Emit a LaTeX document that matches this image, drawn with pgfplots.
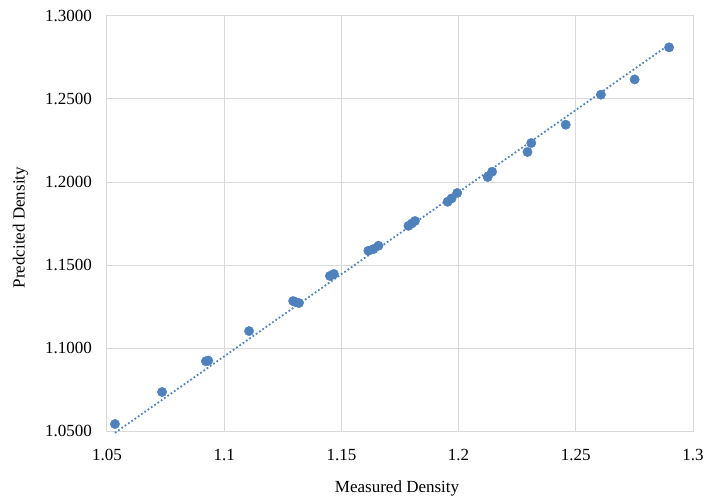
\documentclass[border=0pt]{standalone}
\usepackage{pgfplots}
\pgfplotsset{compat=1.18}
\usepackage{fontspec}
\setmainfont{Liberation Serif}
\definecolor{ptblue}{HTML}{4F81BD}
\definecolor{gridgray}{HTML}{D9D9D9}
\begin{document}
\begin{tikzpicture}
\begin{axis}[
  name=ax,
  scale only axis,
  width=586pt, height=415pt,
  xmin=1.05, xmax=1.3, ymin=1.05, ymax=1.3,
  xtick={1.05,1.1,1.15,1.2,1.25,1.3},
  xticklabels={1.05,1.1,1.15,1.2,1.25,1.3},
  ytick={1.05,1.1,1.15,1.2,1.25,1.3},
  yticklabels={1.0500,1.1000,1.1500,1.2000,1.2500,1.3000},
  major tick length=0pt,
  grid=major,
  major grid style={draw=gridgray, line width=1pt},
  axis line style={draw=gridgray, line width=1pt},
  tick label style={font=\fontsize{17}{20}\selectfont, inner sep=0pt},
  yticklabel style={anchor=east, xshift=-15pt},
  xticklabel style={anchor=north, yshift=-18pt},
  xlabel={Measured Density},
  ylabel={Predcited Density},
  every axis x label/.style={at={(axis description cs:0.495,-0.148)}, anchor=base, font=\fontsize{17}{20}\selectfont, inner sep=0pt},
  every axis y label/.style={at={(axis description cs:-0.1476,0.49)}, rotate=90, anchor=center, font=\fontsize{17}{20}\selectfont, inner sep=0pt},
  clip=false,
]
\addplot[ptblue, line width=1.75pt, dash pattern=on 1.75pt off 2.25pt, forget plot]
  coordinates {(1.0534,1.0489) (1.2898,1.2827)};
\addplot[only marks, mark=*, mark size=4.7pt, mark options={fill=ptblue, draw=ptblue}]
  coordinates {
  (1.0534,1.0542)
  (1.0735,1.0735)
  (1.0922,1.0920)
  (1.0932,1.0924)
  (1.1106,1.1102)
  (1.1294,1.1283)
  (1.1302,1.1278)
  (1.1319,1.1271)
  (1.1451,1.1434)
  (1.1468,1.1446)
  (1.1615,1.1586)
  (1.1637,1.1596)
  (1.1658,1.1616)
  (1.1786,1.1736)
  (1.1800,1.1750)
  (1.1814,1.1765)
  (1.1953,1.1881)
  (1.1970,1.1901)
  (1.1994,1.1934)
  (1.2124,1.2030)
  (1.2143,1.2062)
  (1.2294,1.2181)
  (1.2310,1.2235)
  (1.2457,1.2345)
  (1.2607,1.2526)
  (1.2751,1.2618)
  (1.2898,1.2811)
  };
\end{axis}
\pgfresetboundingbox
\path[use as bounding box] ([xshift=-107pt,yshift=-64pt]ax.south west) rectangle ([xshift=12pt,yshift=16pt]ax.north east);
\end{tikzpicture}
\end{document}
